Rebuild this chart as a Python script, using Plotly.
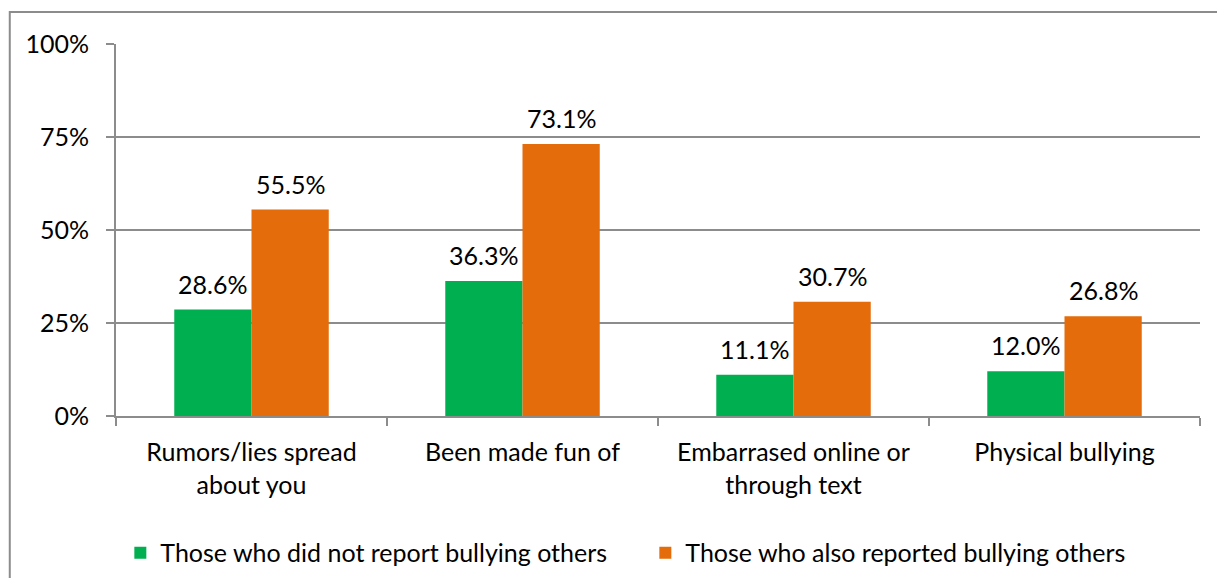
import plotly.graph_objects as go

categories = ["Rumors/lies spread<br>about you", "Been made fun of",
              "Embarrased online or<br>through text", "Physical bullying"]
not_reported = [0.286, 0.363, 0.111, 0.120]
also_reported = [0.555, 0.731, 0.307, 0.268]
series_names = ["Those who did not report bullying others",
                "Those who also reported bullying others"]

FONT = "Lato, Open Sans, sans-serif"
GREY = "#8c8c8c"
colors = ["#00B050", "#E46C0A"]

fig = go.Figure()
for name, vals, col in zip(series_names, [not_reported, also_reported], colors):
    fig.add_trace(go.Bar(x=categories, y=vals, name=name,
                         marker=dict(color=col, line=dict(width=0))))

# value labels above the bars (a bit higher than plotly's own outside text)
for vals, shift in [(not_reported, -38.6), (also_reported, 38.6)]:
    for cat, v in zip(categories, vals):
        fig.add_annotation(x=cat, y=v, text=f"{v:.1%}", showarrow=False,
                           xshift=shift, yshift=9, yanchor="bottom",
                           font=dict(size=25, color="#000"))

# page body adds an 8px offset, so the figure is 8px smaller than the window
fig.update_layout(
    width=1217, height=570,
    margin=dict(l=108, r=25, t=36, b=162, autoexpand=False),
    paper_bgcolor="white", plot_bgcolor="white",
    font=dict(family=FONT, size=25, color="#000"),
    barmode="group", bargap=0.43, bargroupgap=0,
    showlegend=True,
    legend=dict(orientation="h", x=0.004, xanchor="left", y=-0.368, yanchor="middle",
                entrywidth=480, font=dict(size=25), itemwidth=30,
                traceorder="normal"),
    shapes=[dict(type="rect", xref="paper", yref="paper",
                 x0=-0.098, x1=1.1, y0=-0.6, y1=1.086,
                 line=dict(color=GREY, width=2), fillcolor="rgba(0,0,0,0)",
                 layer="below")],
)
fig.update_xaxes(showline=True, linecolor=GREY, linewidth=2, tickson="boundaries",
                 ticks="outside", ticklen=8, tickcolor=GREY, tickwidth=2,
                 showgrid=False, tickfont=dict(size=25), ticklabelstandoff=13,
                 automargin=False)
fig.update_yaxes(range=[0, 1], tickvals=[0, 0.25, 0.5, 0.75, 1.0], tickformat=".0%",
                 showline=True, linecolor=GREY, linewidth=2, ticks="outside",
                 ticklen=8, tickcolor=GREY, tickwidth=2,
                 showgrid=True, gridcolor=GREY, gridwidth=2, zeroline=False,
                 tickfont=dict(size=25), ticklabelstandoff=12, automargin=False)

fig.write_html("out.html")
